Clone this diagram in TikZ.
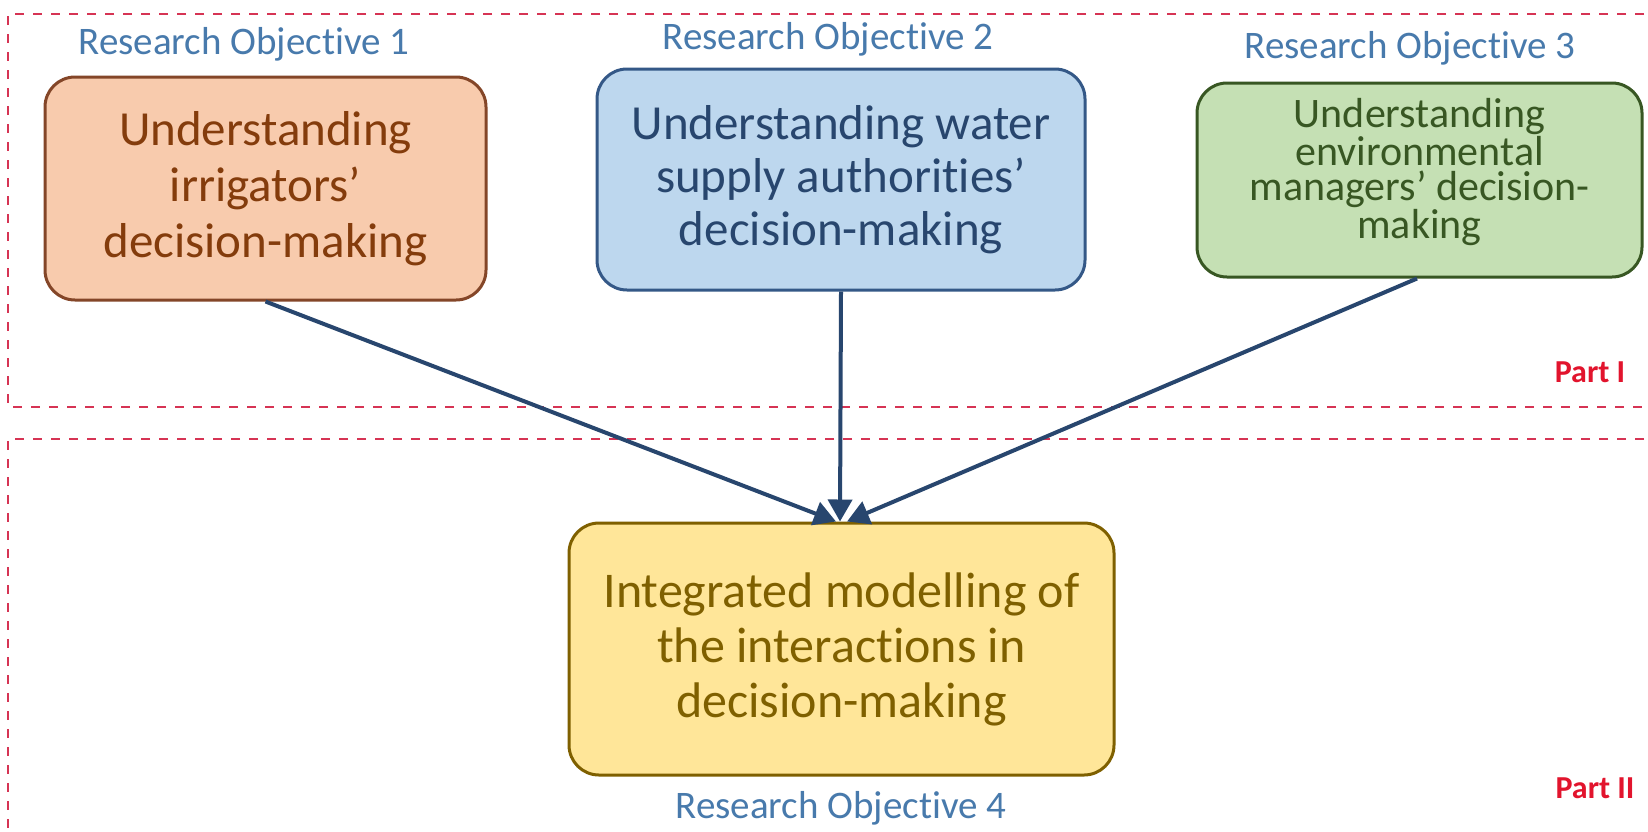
\documentclass[tikz,border=0pt]{standalone}
\usepackage{fontspec}
\setmainfont{Carlito}[Ligatures={NoCommon,NoRequired,NoContextual},Contextuals={NoAlternate}]
\usetikzlibrary{arrows.meta,calc}
\definecolor{frameRed}{RGB}{214,52,84}
\definecolor{partRed}{RGB}{226,20,45}
\definecolor{objBlue}{RGB}{72,122,172}
\definecolor{arrowBlue}{RGB}{40,70,110}
\definecolor{orFill}{RGB}{248,203,173}
\definecolor{orLine}{RGB}{132,70,40}
\definecolor{orText}{RGB}{132,60,12}
\definecolor{blFill}{RGB}{189,215,238}
\definecolor{blLine}{RGB}{52,88,135}
\definecolor{blText}{RGB}{40,70,110}
\definecolor{grFill}{RGB}{197,224,180}
\definecolor{grLine}{RGB}{56,87,35}
\definecolor{grText}{RGB}{56,87,35}
\definecolor{yeFill}{RGB}{255,230,153}
\definecolor{yeLine}{RGB}{127,96,0}
\definecolor{yeText}{RGB}{127,96,0}
\tikzset{
  frame/.style={draw=frameRed, line width=1.4pt, dash pattern=on 4.5pt off 4.5pt},
  objbox/.style={rounded corners=15pt, line width=1.5pt, align=center, inner sep=0pt},
  objlabel/.style={text=objBlue, font=\fontsize{19.5}{23}\selectfont, inner sep=0pt},
  partlabel/.style={text=partRed, font=\bfseries\fontsize{16}{19}\selectfont, inner sep=0pt},
  link/.style={draw=arrowBlue, line width=2pt, -{Triangle[length=11pt,width=12pt]}}
}
\begin{document}
\begin{tikzpicture}[x=0.5pt,y=-0.5pt]
\clip (0,0) rectangle (1648,831);
\fill[white] (0,0) rectangle (1648,831);
% frames
\draw[frame] (1680,14) -- (8,14) -- (8,407) -- (1680,407);
\draw[frame] (1680,439) -- (8,439) -- (8,860);
% boxes
\node[objbox, draw=orLine, fill=orFill, text=orText, minimum width=220.5pt, minimum height=111.5pt,
  font=\fontsize{24.5}{28}\selectfont] (b1) at (265.5,188.5)
  {Understanding\\ irrigators’\\ decision-making};
\node[objbox, draw=blLine, fill=blFill, text=blText, minimum width=244pt, minimum height=110.5pt,
  font=\fontsize{24.5}{26.5}\selectfont] (b2) at (841,179.5)
  {Understanding water\\ supply authorities’\\ decision-making};
\node[objbox, draw=grLine, fill=grFill, minimum width=222.5pt, minimum height=97pt] (b3) at (1419.5,180) {};
\node[text=grText, align=center, inner sep=0pt, font=\fontsize{21}{17.5}\selectfont] (t3) at (1419.5,172)
  {Understanding\\ environmental\\ managers’ decision-\\ making};
\node[objbox, draw=yeLine, fill=yeFill, text=yeText, minimum width=272.5pt, minimum height=126pt,
  font=\fontsize{25}{27.5}\selectfont] (b4) at (841.5,649)
  {Integrated modelling of\\ the interactions in\\ decision-making};
% labels
\node[objlabel] (l1) at (244,44) {Research Objective 1};
\node[objlabel] (l2) at (828,39) {Research Objective 2};
\node[objlabel] (l3) at (1410,48) {Research Objective 3};
\node[objlabel] (l4) at (841,808) {Research Objective 4};
\node[partlabel] (p1) at (1590,372) {Part I};
\node[partlabel] (p2) at (1595,788) {Part II};
% arrows
\coordinate (e1) at ($(b4.north)+(-5.5,0)$);
\coordinate (e2) at ($(b4.north)+(-1.5,0)$);
\coordinate (e3) at ($(b4.north)+(5.5,0)$);
\draw[link] (b1.south) -- (e1);
\draw[link] (b2.south) -- (e2);
\draw[link] ($(b3.south)+(-2.5,0)$) -- (e3);
\end{tikzpicture}
\end{document}
